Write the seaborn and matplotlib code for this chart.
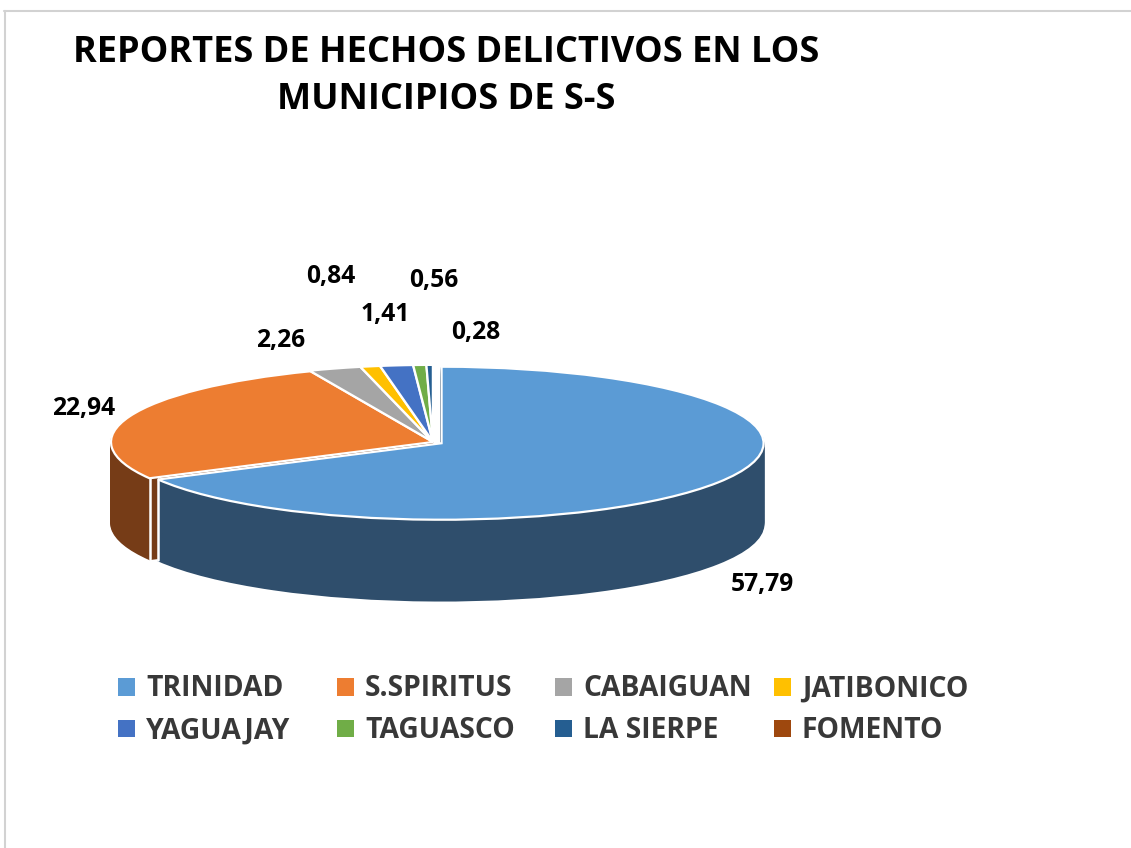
import numpy as np
import matplotlib
matplotlib.use("Agg")
import matplotlib.pyplot as plt
from matplotlib.lines import Line2D
import seaborn as sns

municipios = ["TRINIDAD", "S.SPIRITUS", "CABAIGUAN", "JATIBONICO",
              "YAGUAJAY", "TAGUASCO", "LA SIERPE", "FOMENTO"]
valores = [57.79, 22.94, 2.26, 0.84, 1.41, 0.56, 0.28, 0.0]
top_colors = ["#5B9BD5", "#ED7D31", "#A5A5A5", "#FFC000",
              "#4472C4", "#70AD47", "#255E91", "#9E480E"]
wall_trinidad = "#2F4E6C"
wall_spiritus = "#763C17"
titulo = "REPORTES DE HECHOS DELICTIVOS EN LOS\nMUNICIPIOS DE S-S"

sns.set_theme(style="white")
plt.rcParams["font.family"] = ["Open Sans", "DejaVu Sans"]
palette = sns.color_palette(top_colors)

W, H = 1131, 848
fig = plt.figure(figsize=(W / 100, H / 100), dpi=100, facecolor="white")
ax = fig.add_axes([0, 0, 1, 1])

# pie geometry, in pixels of the picture
cx, cy, rx, ry, depth_px = 433, 442, 322, 76.5, 81
depth = depth_px / ry
explode = [0.031, 0.0, 0.008, 0.008, 0.008, 0.008, 0.008, 0.0]
pie_kw = dict(startangle=90, counterclock=False, explode=explode, frame=False)


def px(x, y):
    return x / W, 1 - y / H


def wall_pass(index, color):
    colors = [color] * len(valores)
    for d in np.linspace(depth, 0.02, 60):
        layer, _ = ax.pie(valores, colors=colors, center=(0, -d), **pie_kw)
        for i, w in enumerate(layer):
            if i == index:
                w.set_edgecolor(color)
                w.set_linewidth(1.2)
            else:
                w.set_visible(False)


# side walls: the orange slice first, the blue one in front of it
wall_pass(1, wall_spiritus)
wall_pass(0, wall_trinidad)

# top surface
wedges, _ = ax.pie(valores, colors=palette,
                   wedgeprops=dict(edgecolor="white", linewidth=1.6), **pie_kw)

# white vertical seams at the cut between the two big slices
fracs = np.array(valores) / sum(valores)
ang = np.deg2rad(90 - 360 * fracs[0])
mid0 = np.deg2rad(90 - 180 * fracs[0])
x_or, y_or = np.cos(ang), np.sin(ang)
x_tr = x_or + explode[0] * np.cos(mid0)
y_tr = y_or + explode[0] * np.sin(mid0)
ax.plot([x_or, x_or], [y_or, y_or - depth], color="white", lw=1.8)
ax.plot([x_tr, x_tr], [y_tr, y_tr - depth], color="white", lw=1.8)

ax.set_aspect("auto")
ax.set_xlim(-cx / rx, (W - cx) / rx)
ax.set_ylim((cy - H) / ry, cy / ry)
ax.axis("off")

# data labels
label_pos = [(762, 584), (84, 408), (281, 340), (331, 276),
             (385, 314), (434, 281), (476, 332)]
for v, (lx, ly) in zip(valores, label_pos):
    fig.text(*px(lx, ly), f"{v:.2f}".replace(".", ","), ha="center", va="center",
             fontsize=17.7, fontweight="bold", color="black")

# title
fig.text(*px(446, 76.5), titulo, ha="center", va="center", fontsize=26,
         fontweight="bold", color="black", linespacing=1.42)

# legend: four equally spaced columns of two entries
for col, x0 in enumerate([119, 338, 556, 775]):
    idx = [col, col + 4]
    leg = fig.legend([wedges[i] for i in idx], [municipios[i] for i in idx],
                     loc="upper left", bbox_to_anchor=px(x0 - 1, 674.5), frameon=False,
                     labelcolor="#383838", handlelength=0.6,
                     handleheight=0.6, handletextpad=0.39, labelspacing=0.46,
                     borderpad=0, borderaxespad=0,
                     prop=dict(weight="bold", size=20.3, family="Open Sans"))
    for h in leg.legend_handles:
        h.set_edgecolor("none")

# frame of the original picture
frame = "#D2D2D2"
fig.add_artist(Line2D([4 / W, 1], [1 - 10.5 / H] * 2, color=frame, lw=1.5))
fig.add_artist(Line2D([4.5 / W] * 2, [0, 1 - 10.5 / H], color=frame, lw=1.5))

fig.savefig("out.png", dpi=100, facecolor="white")
